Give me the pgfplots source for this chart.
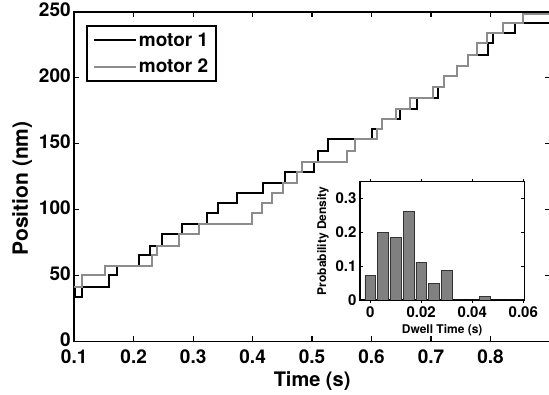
\documentclass[border=0pt]{standalone}
\usepackage{pgfplots}
\pgfplotsset{compat=1.18}
\usepackage{fontspec}
\setmainfont{TeX Gyre Heros}
\definecolor{tracegray}{gray}{0.55}
\definecolor{bargray}{gray}{0.5}

\pgfplotstableread{
t pos
0.1000 41.6
0.1013 34.0
0.1126 41.6
0.1585 50.1
0.1719 57.3
0.2089 65.3
0.2274 72.8
0.2471 81.3
0.2807 88.9
0.3240 97.3
0.3422 104.9
0.3731 112.3
0.4168 120.5
0.4543 128.8
0.5030 136.4
0.5097 144.9
0.5265 153.6
0.6005 161.0
0.6168 168.6
0.6476 176.2
0.6756 184.7
0.7119 193.1
0.7220 201.1
0.7429 209.0
0.7618 217.4
0.7955 226.3
0.8039 233.8
0.8409 242.0
0.9000 242.0
}\motorone

\pgfplotstableread{
t pos
0.1000 41.6
0.1131 50.1
0.1518 57.3
0.2303 65.3
0.2392 72.8
0.2761 81.3
0.3097 88.9
0.3983 97.3
0.4156 104.9
0.4324 112.3
0.4509 120.5
0.4745 128.8
0.4829 136.4
0.5585 144.9
0.5719 153.6
0.6084 161.0
0.6168 168.6
0.6403 176.2
0.6644 184.7
0.7035 193.1
0.7220 201.1
0.7429 209.0
0.7618 217.4
0.7765 226.3
0.7933 233.8
0.8207 241.4
0.8548 248.3
0.9000 248.3
}\motortwo

\begin{document}
\begin{tikzpicture}
\useasboundingbox (-74.2pt,-53.5pt) rectangle (474.8pt,341.5pt);
\begin{axis}[
  at={(0pt,0pt)}, anchor=south west,
  scale only axis, width=475.8pt, height=329.5pt,
  xmin=0.1, xmax=0.9, ymin=0, ymax=250,
  xtick={0.1,0.2,0.3,0.4,0.5,0.6,0.7,0.8},
  xticklabels={0.1,0.2,0.3,0.4,0.5,0.6,0.7,0.8},
  ytick={0,50,100,150,200,250},
  yticklabels={0,50,100,150,200,250},
  scaled ticks=false,
  tick align=inside, xtick pos=both, ytick pos=both,
  major tick length=5pt,
  axis line style={line width=1.8pt},
  every tick/.style={black, line width=1.2pt},
  tick label style={font=\bfseries\fontsize{19}{19}\selectfont},
  xticklabel style={yshift=-4.5pt},
  yticklabel style={yshift=2pt},
  label style={font=\bfseries\fontsize{20}{20}\selectfont},
  xlabel={Time (s)}, ylabel={Position (nm)},
  xlabel style={yshift=-1pt},
  ylabel style={font=\bfseries\fontsize{21}{21}\selectfont, at={(ticklabel cs:0.465)}},
  legend style={at={(0.0248,0.9605)}, anchor=north west, draw=black,
    line width=1.8pt, font=\bfseries\fontsize{19}{19}\selectfont,
    inner xsep=6pt, inner ysep=5pt, row sep=7pt, cells={anchor=west}},
  legend image code/.code={\draw[#1] (0pt,0pt) -- (42pt,0pt);},
]
\addplot[const plot, black, line width=2pt] table[x=t, y=pos] {\motorone};
\addlegendentry{motor 1}
\addplot[const plot, tracegray, line width=2pt] table[x=t, y=pos] {\motortwo};
\addlegendentry{motor 2}
\end{axis}

\begin{axis}[
  at={(285.8pt,41.5pt)}, anchor=south west,
  scale only axis, width=164.3pt, height=118.3pt,
  xmin=-0.004, xmax=0.0604, ymin=0, ymax=0.35,
  axis background/.style={fill=white},
  xtick={0,0.02,0.04,0.06}, xticklabels={0,0.02,0.04,0.06},
  ytick={0,0.1,0.2,0.3}, yticklabels={0,0.1,0.2,0.3},
  scaled ticks=false,
  tick align=inside, xtick pos=both, ytick pos=both,
  major tick length=3pt,
  axis line style={line width=1.2pt},
  every tick/.style={black, line width=0.8pt},
  tick label style={font=\bfseries\fontsize{15}{15}\selectfont},
  label style={font=\bfseries\fontsize{12}{12}\selectfont},
  xlabel={Dwell Time (s)}, ylabel={Probability Density},
  ybar, bar width=0.0042, bar shift=0pt,
]
\addplot[fill=bargray, draw=black!80, line width=0.6pt] coordinates {
(0.000,0.073) (0.005,0.200) (0.010,0.186) (0.015,0.263) (0.020,0.111)
(0.025,0.048) (0.030,0.087) (0.035,0) (0.040,0) (0.045,0.011)
(0.050,0) (0.055,0) (0.060,0)
};
\end{axis}
\end{tikzpicture}
\end{document}
